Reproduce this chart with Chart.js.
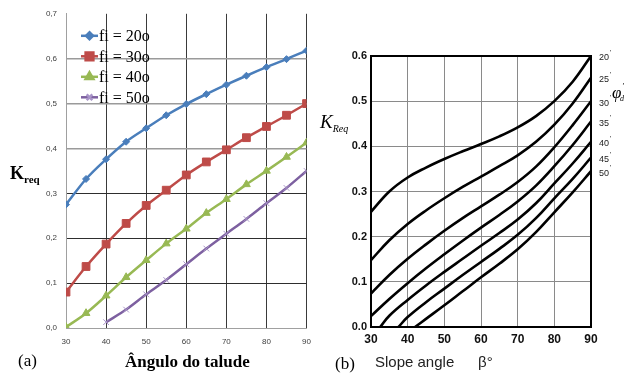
<!DOCTYPE html>
<html>
<head>
<meta charset="utf-8">
<script src="https://cdn.jsdelivr.net/npm/chart.js@4.4.1/dist/chart.umd.min.js"></script>
<style>
  body { margin: 0; background: #fff; }
  #wrap { position: relative; width: 626px; height: 374px; overflow: hidden; background: #fff; }
  canvas { position: absolute; }
  .txt { position: absolute; white-space: nowrap; color: #000; line-height: 1; }
  .serif { font-family: "Liberation Serif", serif; }
  .sans { font-family: "Liberation Sans", Arial, sans-serif; }
  sub { font-size: 11px; vertical-align: -4px; }
</style>
</head>
<body>
<div id="wrap">
  <canvas id="chartA" width="320" height="352" style="left:0;top:0"></canvas>
  <canvas id="chartB" width="316" height="320" style="left:310px;top:30px"></canvas>

  <div class="txt serif" style="left:10px;top:164px;font-size:18px;font-weight:bold">K<sub style="font-size:11px">req</sub></div>
  <div class="txt serif" style="left:18px;top:352px;font-size:17px">(a)</div>
  <div class="txt serif" style="left:125px;top:353px;font-size:17px;font-weight:bold">Ângulo do talude</div>

  <div class="txt serif" style="left:320px;top:112px;font-size:19px;font-style:italic">K<sub style="font-size:10px">Req</sub></div>
  <div class="txt serif" style="left:612px;top:84px;font-size:17px;font-style:italic">φ<span style="position:absolute;left:10px;top:-1px;font-size:8px">'</span><span style="position:absolute;left:8px;top:11px;font-size:8px">d</span></div>
  <div class="txt serif" style="left:335px;top:355px;font-size:17px">(b)</div>
  <div class="txt sans" style="left:375px;top:354px;font-size:15px;color:#222">Slope angle</div>
  <div class="txt sans" style="left:478px;top:354px;font-size:15px;color:#222">β°</div>
</div>

<script>
// (a) K_req vs slope angle, one series per friction angle
const angles = [30, 35, 40, 45, 50, 55, 60, 65, 70, 75, 80, 85, 90];
const fi20 = [0.275, 0.332, 0.376, 0.415, 0.445, 0.474, 0.499, 0.521, 0.542, 0.562, 0.581, 0.599, 0.618];
const fi30 = [0.080, 0.137, 0.187, 0.233, 0.273, 0.307, 0.341, 0.370, 0.397, 0.424, 0.449, 0.474, 0.500];
const fi40 = [0.002, 0.033, 0.072, 0.113, 0.151, 0.188, 0.221, 0.256, 0.287, 0.320, 0.350, 0.381, 0.413];
const fi50 = [null, null, 0.013, 0.041, 0.075, 0.107, 0.142, 0.177, 0.210, 0.243, 0.278, 0.312, 0.350];
const seriesNames = ['fi = 20o', 'fi = 30o', 'fi = 40o', 'fi = 50o'];
const yTicksA = [0, 0.1, 0.2, 0.3, 0.4, 0.5, 0.6, 0.7];

// (b) design chart curves, phi'd = 20..50
const slopeAngles = [30, 35, 40, 45, 50, 55, 60, 65, 70, 75, 80, 85, 90];
const kReq20 = [0.255, 0.300, 0.331, 0.353, 0.372, 0.389, 0.405, 0.422, 0.442, 0.467, 0.500, 0.543, 0.600];
const kReq25 = [0.148, 0.192, 0.228, 0.258, 0.285, 0.310, 0.333, 0.356, 0.380, 0.410, 0.448, 0.495, 0.552];
const kReq30 = [0.074, 0.115, 0.151, 0.183, 0.213, 0.241, 0.267, 0.293, 0.321, 0.355, 0.398, 0.447, 0.500];
const kReq35 = [0.024, 0.062, 0.097, 0.130, 0.161, 0.191, 0.220, 0.248, 0.278, 0.313, 0.356, 0.403, 0.455];
const kReq40 = [null, 0.025, 0.060, 0.092, 0.122, 0.151, 0.180, 0.208, 0.238, 0.274, 0.318, 0.362, 0.410];
const kReq45 = [null, null, 0.022, 0.055, 0.085, 0.115, 0.144, 0.173, 0.204, 0.241, 0.285, 0.328, 0.375];
const kReq50 = [null, null, null, 0.018, 0.048, 0.079, 0.110, 0.140, 0.172, 0.210, 0.254, 0.298, 0.345];
// slope angle where a curve starts from K = 0
const zeroAngles = [null, null, null, null, 32.5, 37.5, 42];
const phiLabels = ['20', '25', '30', '35', '40', '45', '50'];

function toPoints(xs, ys, startX) {
  const pts = [];
  if (startX != null) pts.push({ x: startX, y: 0 });
  xs.forEach((x, i) => { if (ys[i] != null) pts.push({ x: x, y: ys[i] }); });
  return pts;
}

const excelFont = { family: '"Liberation Sans", Arial, sans-serif', size: 8 };

// legend drawn inside the plot area, top-left
const insideLegend = {
  id: 'insideLegend',
  afterDatasetsDraw(chart) {
    const ctx = chart.ctx;
    const a = chart.chartArea;
    ctx.save();
    chart.data.datasets.forEach((ds, i) => {
      const y = a.top + 22 + i * 20.5;
      const x0 = a.left + 15, x1 = a.left + 32;
      ctx.strokeStyle = ds.borderColor;
      ctx.lineWidth = ds.borderWidth;
      ctx.beginPath(); ctx.moveTo(x0, y); ctx.lineTo(x1, y); ctx.stroke();
      ctx.fillStyle = ds.pointBackgroundColor;
      ctx.strokeStyle = ds.pointBorderColor;
      Chart.helpers.drawPoint(ctx, {
        pointStyle: ds.pointStyle, radius: ds.pointRadius, rotation: 0, borderWidth: ds.pointBorderWidth
      }, (x0 + x1) / 2, y);
      ctx.fillStyle = '#000';
      ctx.font = '16px "Liberation Serif", serif';
      ctx.textBaseline = 'middle';
      ctx.fillText(ds.label, x1 + 1, y + 1);
    });
    ctx.restore();
  }
};

new Chart(document.getElementById('chartA'), {
  type: 'line',
  data: {
    datasets: [
      { label: seriesNames[0], data: toPoints(angles, fi20), borderColor: '#4a7ebb', borderWidth: 2.5,
        pointStyle: 'rectRot', pointRadius: 3.5, pointBackgroundColor: '#4a7ebb', pointBorderColor: '#4a7ebb', pointBorderWidth: 1 },
      { label: seriesNames[1], data: toPoints(angles, fi30), borderColor: '#be4b48', borderWidth: 2.5,
        pointStyle: 'rect', pointRadius: 5.5, pointBackgroundColor: '#be4b48', pointBorderColor: '#be4b48', pointBorderWidth: 1 },
      { label: seriesNames[2], data: toPoints(angles, fi40), borderColor: '#98b954', borderWidth: 2.5,
        pointStyle: 'triangle', pointRadius: 4.5, pointBackgroundColor: '#98b954', pointBorderColor: '#98b954', pointBorderWidth: 1 },
      { label: seriesNames[3], data: toPoints(angles, fi50), borderColor: '#7d60a0', borderWidth: 2.5,
        pointStyle: 'crossRot', pointRadius: 4, pointBackgroundColor: '#a995c8', pointBorderColor: '#a995c8', pointBorderWidth: 1 }
    ]
  },
  options: {
    responsive: false,
    animation: false,
    layout: { padding: { top: 13, right: 13, left: 0, bottom: 0 } },
    elements: { line: { cubicInterpolationMode: 'monotone' } },
    plugins: { legend: { display: false }, tooltip: { enabled: false } },
    scales: {
      x: {
        type: 'linear', min: 30, max: 90,
        ticks: { stepSize: 10, font: excelFont, color: '#404040', padding: 9 },
        grid: { drawTicks: false, color: c => c.tick.value === 30 ? '#a0a0a0' : '#3a3a3a', lineWidth: 1 },
        border: { color: '#a0a0a0' },
        afterFit(s) { s.height = 24; }
      },
      y: {
        min: 0, max: 0.7,
        afterBuildTicks(s) { s.ticks = yTicksA.map(v => ({ value: v })); },
        ticks: { font: excelFont, color: '#404040', padding: 9, callback: v => v.toFixed(1).replace('.', ',') },
        grid: {
          drawTicks: false,
          color: c => c.tick.value > 0.65 ? 'rgba(0,0,0,0)' : (c.tick.value > 0.35 ? '#9a9a9a' : '#2e2e2e'),
          lineWidth: c => c.tick.value > 0.35 ? 1.6 : 1
        },
        border: { color: '#a0a0a0' },
        afterFit(s) { s.width = 66; }
      }
    }
  },
  plugins: [insideLegend]
});

// black frame and phi'd labels at the curve ends
const frameAndLabels = {
  id: 'frameAndLabels',
  afterDatasetsDraw(chart) {
    const ctx = chart.ctx;
    const a = chart.chartArea;
    ctx.save();
    ctx.strokeStyle = '#000';
    ctx.lineWidth = 2;
    ctx.strokeRect(a.left, a.top, a.right - a.left, a.bottom - a.top);
    ctx.fillStyle = '#222';
    ctx.textBaseline = 'middle';
    chart.data.datasets.forEach((ds, i) => {
      const pts = chart.getDatasetMeta(i).data;
      const y = pts[pts.length - 1].y + 2;
      ctx.font = '9px "Liberation Sans", Arial, sans-serif';
      ctx.fillText(phiLabels[i], a.right + 8, y);
      ctx.font = '7px "Liberation Sans", Arial, sans-serif';
      ctx.fillText("'", a.right + 19, y - 5);
    });
    ctx.restore();
  }
};

const curveSets = [kReq20, kReq25, kReq30, kReq35, kReq40, kReq45, kReq50];
const boldFont = size => ({ family: '"Liberation Sans", Arial, sans-serif', size: size, weight: 'bold' });

new Chart(document.getElementById('chartB'), {
  type: 'line',
  data: {
    datasets: curveSets.map((vals, i) => ({
      label: phiLabels[i],
      data: toPoints(slopeAngles, vals, zeroAngles[i]),
      borderColor: '#000',
      borderWidth: 2.6,
      pointRadius: 0,
      tension: 0.4
    }))
  },
  options: {
    responsive: false,
    animation: false,
    layout: { padding: { top: 26, right: 35, left: 0, bottom: 0 } },
    plugins: { legend: { display: false }, tooltip: { enabled: false } },
    scales: {
      x: {
        type: 'linear', min: 30, max: 90,
        ticks: { stepSize: 10, font: boldFont(12), color: '#111', padding: 5 },
        grid: { drawTicks: false, color: '#8a8a8a', lineWidth: 1 },
        border: { color: '#000', width: 2 },
        afterFit(s) { s.height = 23; }
      },
      y: {
        min: 0, max: 0.6,
        ticks: { stepSize: 0.1, font: boldFont(11), color: '#111', padding: 4, callback: v => v.toFixed(1) },
        grid: { drawTicks: false, color: '#8a8a8a', lineWidth: 1 },
        border: { color: '#000', width: 2 },
        afterFit(s) { s.width = 61; }
      }
    }
  },
  plugins: [frameAndLabels]
});
</script>
</body>
</html>
